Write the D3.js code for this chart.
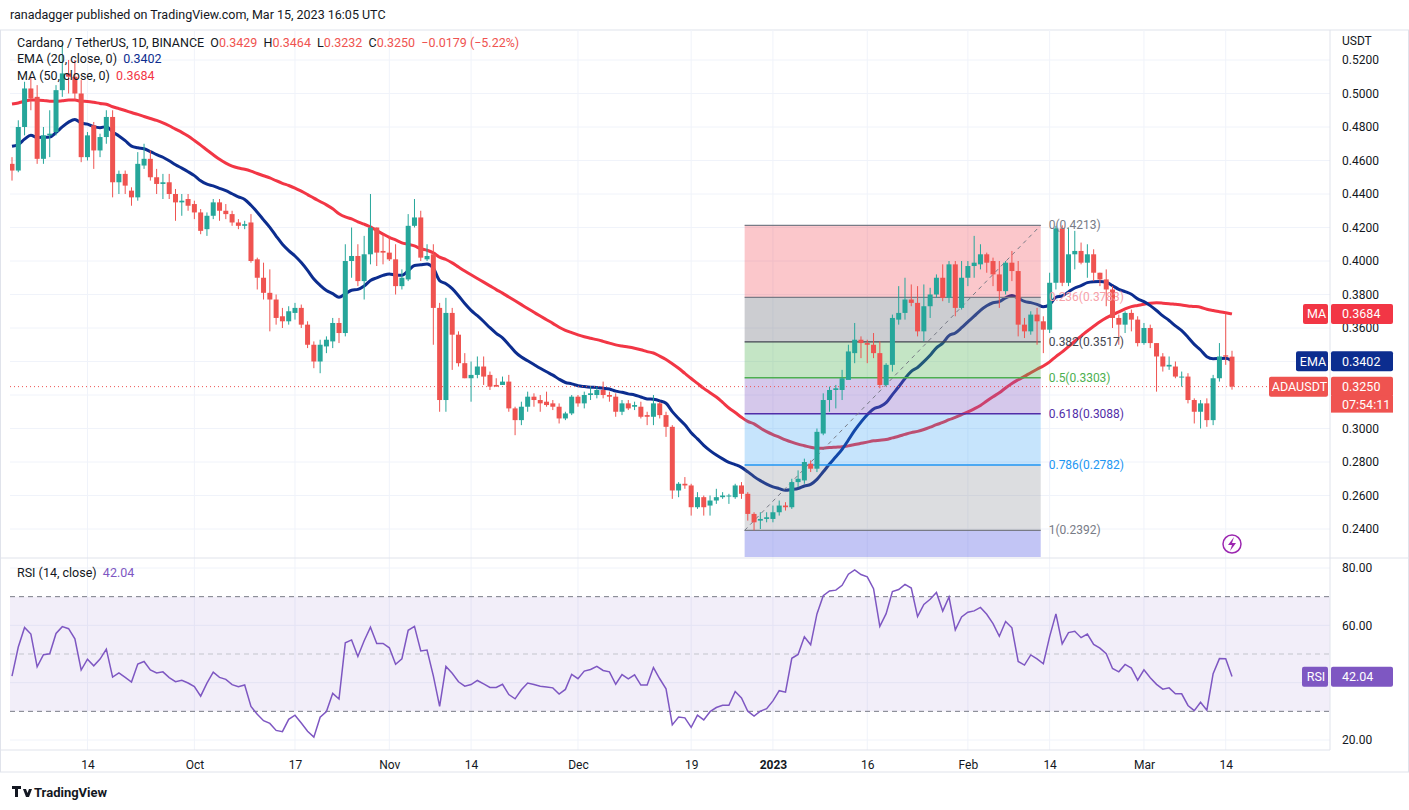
<!DOCTYPE html>
<html>
<head>
<meta charset="utf-8">
<script src="https://cdn.jsdelivr.net/npm/d3@7"></script>
<style>
  body { margin: 0; background: #fff; font-family: Roboto, "Noto Sans", sans-serif; }
  svg text { font-family: Roboto, "Noto Sans", sans-serif; white-space: pre; }
</style>
</head>
<body>
<svg id="chart" width="1409" height="810"></svg>
<script>
// closes before the visible window (mid Jul - Sep 1 2022), only used to seed EMA / MA / RSI
var preCloses = [0.442,0.447,0.452,0.458,0.470,0.482,0.498,0.505,0.496,0.488,0.502,0.495,0.484,0.491,0.506,0.512,0.520,0.508,0.502,0.498,
  0.515,0.522,0.510,0.504,0.518,0.528,0.536,0.532,0.545,0.560,0.556,0.572,0.578,0.566,0.540,0.512,0.478,0.462,0.455,0.460,
  0.448,0.442,0.450,0.440,0.436,0.448,0.456,0.452,0.446,0.450];

// visible daily candles from Sep 2 2022: [open, high, low, close]
var candles = [
 [.458,.462,.448,.454],[.454,.484,.453,.480],[.480,.507,.475,.503],[.503,.510,.490,.497],[.498,.505,.458,.461],
 [.461,.480,.458,.475],[.475,.490,.462,.476],[.477,.505,.475,.502],[.502,.530,.498,.512],[.512,.520,.500,.510],
 [.510,.520,.496,.500],[.500,.508,.459,.462],[.462,.477,.460,.475],[.481,.483,.455,.466],[.466,.476,.462,.474],
 [.474,.490,.470,.486],[.486,.490,.438,.447],[.447,.454,.440,.452],[.452,.454,.440,.445],[.442,.444,.433,.438],
 [.438,.465,.436,.458],[.457,.470,.455,.461],[.461,.466,.448,.450],[.450,.455,.440,.446],[.446,.452,.437,.447],
 [.447,.452,.437,.440],[.440,.443,.424,.435],[.435,.440,.427,.436],[.437,.440,.430,.433],[.434,.436,.425,.429],
 [.429,.431,.416,.418],[.419,.429,.415,.427],[.427,.437,.425,.435],[.435,.437,.424,.430],[.430,.434,.425,.428],
 [.428,.430,.421,.423],[.423,.425,.419,.421],[.421,.424,.419,.422],[.423,.428,.399,.400],[.401,.402,.383,.390],
 [.390,.399,.377,.381],[.381,.395,.358,.377],[.377,.380,.362,.366],[.367,.372,.360,.364],[.364,.373,.362,.370],
 [.369,.375,.365,.372],[.372,.374,.360,.362],[.362,.364,.348,.350],[.350,.352,.336,.340],[.340,.353,.333,.350],
 [.349,.355,.345,.353],[.352,.366,.348,.363],[.363,.366,.351,.357],[.357,.410,.355,.400],[.400,.420,.390,.403],
 [.403,.410,.385,.388],[.388,.415,.377,.404],[.404,.440,.398,.420],[.420,.420,.397,.405],[.406,.416,.398,.405],
 [.405,.415,.400,.401],[.401,.410,.380,.385],[.385,.395,.383,.390],[.389,.428,.388,.421],[.421,.437,.420,.426],
 [.426,.430,.400,.402],[.401,.410,.400,.403],[.404,.410,.350,.372],[.372,.375,.310,.317],[.317,.378,.310,.369],
 [.369,.372,.335,.356],[.356,.358,.337,.339],[.339,.345,.330,.330],[.330,.340,.316,.332],[.332,.343,.330,.337],
 [.337,.343,.326,.331],[.332,.334,.323,.325],[.326,.330,.325,.325],[.326,.331,.326,.328],[.328,.332,.310,.312],
 [.312,.313,.296,.305],[.305,.316,.302,.313],[.313,.322,.310,.319],[.319,.321,.313,.317],[.317,.320,.310,.315],
 [.316,.322,.313,.314],[.315,.317,.311,.313],[.313,.315,.303,.306],[.306,.310,.305,.309],[.309,.320,.308,.319],
 [.319,.320,.313,.315],[.315,.322,.312,.320],[.320,.325,.317,.321],[.320,.325,.318,.323],[.323,.328,.318,.320],
 [.320,.322,.316,.319],[.319,.321,.307,.310],[.310,.317,.308,.315],[.315,.317,.311,.312],[.313,.316,.311,.314],
 [.313,.316,.306,.307],[.308,.310,.302,.307],[.307,.320,.302,.315],[.315,.316,.306,.308],[.308,.310,.295,.301],
 [.301,.302,.258,.263],[.263,.268,.259,.267],[.267,.271,.264,.266],[.266,.267,.248,.253],[.253,.262,.252,.259],
 [.259,.260,.248,.253],[.254,.260,.248,.257],[.257,.264,.255,.259],[.259,.262,.258,.260],[.260,.261,.255,.260],
 [.259,.267,.258,.266],[.266,.268,.258,.261],[.261,.262,.245,.249],[.249,.250,.2392,.244],[.245,.250,.240,.246],
 [.246,.250,.244,.247],[.246,.254,.244,.250],[.250,.257,.248,.254],[.254,.256,.251,.253],[.253,.270,.252,.268],
 [.268,.275,.265,.270],[.269,.282,.267,.280],[.279,.281,.274,.276],[.276,.300,.274,.298],[.297,.321,.296,.317],
 [.317,.325,.310,.323],[.323,.326,.312,.324],[.323,.335,.317,.330],[.329,.350,.330,.346],[.345,.363,.339,.353],
 [.353,.355,.342,.351],[.351,.353,.339,.350],[.350,.357,.342,.345],[.345,.352,.324,.326],[.326,.339,.325,.338],
 [.338,.368,.334,.366],[.365,.385,.362,.369],[.369,.390,.365,.377],[.377,.386,.373,.375],[.375,.385,.355,.358],
 [.358,.386,.352,.373],[.373,.384,.366,.380],[.380,.392,.378,.390],[.390,.398,.376,.378],[.378,.400,.375,.398],
 [.398,.400,.367,.372],[.372,.400,.371,.390],[.390,.400,.385,.397],[.397,.415,.390,.399],[.398,.410,.395,.404],
 [.404,.405,.393,.399],[.400,.402,.385,.392],[.392,.400,.372,.382],[.382,.400,.380,.399],[.399,.406,.388,.394],
 [.394,.400,.355,.362],[.362,.366,.354,.358],[.358,.370,.356,.368],[.368,.372,.350,.364],[.364,.367,.345,.359],
 [.359,.393,.357,.387],[.387,.421,.383,.4195],[.4195,.4213,.385,.387],[.387,.420,.385,.404],[.404,.418,.395,.406],
 [.406,.411,.398,.399],[.399,.410,.390,.404],[.404,.407,.388,.393],[.393,.393,.385,.389],[.389,.395,.373,.383],
 [.383,.385,.360,.366],[.366,.368,.350,.362],[.362,.370,.357,.369],[.369,.371,.358,.365],[.365,.367,.349,.351],
 [.351,.363,.350,.360],[.360,.362,.348,.351],[.351,.351,.322,.343],[.343,.345,.334,.337],[.337,.343,.335,.338],
 [.337,.340,.330,.331],[.331,.334,.325,.331],[.331,.333,.315,.317],[.317,.318,.303,.310],[.310,.317,.300,.315],
 [.315,.318,.301,.305],[.305,.332,.302,.330],[.330,.351,.328,.343],[.3437,.3686,.338,.3429],[.3429,.3464,.3232,.3250]
];

var start = new Date(2022, 8, 2);
var data = candles.map(function(c, i) {
  return { date: d3.timeDay.offset(start, i), o: c[0], h: c[1], l: c[2], c: c[3] };
});

// indicators from the full close history
var allCloses = preCloses.concat(data.map(function(d) { return d.c; }));
var ema = [], ma = [], rsi = [];
var k = 2 / 21, e = d3.mean(allCloses.slice(0, 20));
var gain = 0, loss = 0;
allCloses.forEach(function(c, i) {
  if (i >= 20) e = c * k + e * (1 - k);
  ema.push(e);
  ma.push(i >= 49 ? d3.mean(allCloses.slice(i - 49, i + 1)) : null);
  if (i > 0) {
    var ch = c - allCloses[i - 1];
    var g = Math.max(ch, 0), l = Math.max(-ch, 0);
    if (i <= 14) { gain += g / 14; loss += l / 14; }
    else { gain = (gain * 13 + g) / 14; loss = (loss * 13 + l) / 14; }
  }
  rsi.push(loss === 0 ? 100 : 100 - 100 / (1 + gain / loss));
});
var off = preCloses.length;
data.forEach(function(d, i) { d.ema = ema[i + off]; d.ma = ma[i + off]; d.rsi = rsi[i + off]; });

var svg = d3.select("#chart");
var padL = 10, padR = 1330, padT = 30, mainBottom = 557, rsiBottom = 750;

var x = d3.scaleTime().domain([start, new Date(2023, 2, 15)]).range([12, 1232]);
var y = d3.scaleLinear().domain([0.24, 0.52]).range([529, 60]);
var yr = d3.scaleLinear().domain([20, 80]).range([740, 568]);

svg.append("text").attr("x", 10).attr("y", 19).attr("font-size", 12.5).attr("fill", "#131722")
  .text("ranadagger published on TradingView.com, Mar 15, 2023 16:05 UTC");

svg.append("rect").attr("x", 0.5).attr("y", padT).attr("width", 1408).attr("height", 742)
  .attr("fill", "none").attr("stroke", "#e0e3eb");

svg.append("defs").append("clipPath").attr("id", "cm").append("rect")
  .attr("x", padL).attr("y", padT).attr("width", padR - padL).attr("height", mainBottom - padT);

// grid
var tickDates = [new Date(2022,8,14), new Date(2022,9,1), new Date(2022,9,17), new Date(2022,10,1), new Date(2022,10,14),
  new Date(2022,11,1), new Date(2022,11,19), new Date(2023,0,1), new Date(2023,0,16), new Date(2023,1,1),
  new Date(2023,1,14), new Date(2023,2,1), new Date(2023,2,14)];
var grid = svg.append("g").attr("stroke", "#f0f3fa");
tickDates.forEach(function(t) {
  grid.append("line").attr("x1", x(t)).attr("x2", x(t)).attr("y1", padT).attr("y2", rsiBottom);
});
d3.range(0.24, 0.5201, 0.02).forEach(function(v) {
  grid.append("line").attr("x1", padL).attr("x2", padR).attr("y1", y(v)).attr("y2", y(v));
});
[20, 40, 60, 80].forEach(function(v) {
  grid.append("line").attr("x1", padL).attr("x2", padR).attr("y1", yr(v)).attr("y2", yr(v));
});

var main = svg.append("g").attr("clip-path", "url(#cm)");

// moving averages
var lineEma = d3.line().x(function(d) { return x(d.date); }).y(function(d) { return y(d.ema); }).curve(d3.curveMonotoneX);
var lineMa = d3.line().x(function(d) { return x(d.date); }).y(function(d) { return y(d.ma); }).curve(d3.curveMonotoneX);
main.append("path").attr("d", lineMa(data)).attr("fill", "none").attr("stroke", "#f23645").attr("stroke-width", 3);
main.append("path").attr("d", lineEma(data)).attr("fill", "none").attr("stroke", "#0c2d8f").attr("stroke-width", 3);

// fib retracement
var fibStart = 116.5, fibEnd = 163.6;
var fx0 = x(d3.timeHour.offset(start, fibStart * 24)), fx1 = x(d3.timeHour.offset(start, fibEnd * 24));
var hi = 0.4213, lo = 0.2392;
var fibs = [
  { r: "0", v: 0.4213, col: "#787b86", fill: "rgba(242,54,69,0.28)", tc: "#787b86" },
  { r: "0.236", v: 0.3783, col: "#787b86", fill: "rgba(120,123,134,0.38)", tc: "#f7a1a8" },
  { r: "0.382", v: 0.3517, col: "#434651", fill: "rgba(76,175,80,0.33)", tc: "#434651" },
  { r: "0.5", v: 0.3303, col: "#4caf50", fill: "rgba(126,87,194,0.33)", tc: "#4caf50" },
  { r: "0.618", v: 0.3088, col: "#512da8", fill: "rgba(33,150,243,0.26)", tc: "#512da8" },
  { r: "0.786", v: 0.2782, col: "#2196f3", fill: "rgba(120,123,134,0.26)", tc: "#2196f3" },
  { r: "1", v: 0.2392, col: "#787b86", fill: "rgba(103,110,230,0.4)", tc: "#787b86" }
];
fibs.forEach(function(f, i) {
  var next = i < fibs.length - 1 ? fibs[i + 1].v : 0.2;
  main.append("rect").attr("x", fx0).attr("width", fx1 - fx0)
    .attr("y", y(f.v)).attr("height", y(next) - y(f.v)).attr("fill", f.fill);
});
fibs.forEach(function(f) {
  main.append("line").attr("x1", fx0).attr("x2", fx1).attr("y1", y(f.v)).attr("y2", y(f.v))
    .attr("stroke", f.col).attr("stroke-width", 1.3);
});
main.append("line").attr("x1", fx0).attr("y1", y(lo)).attr("x2", fx1).attr("y2", y(hi))
  .attr("stroke", "#787b86").attr("stroke-dasharray", "4,4");

// last price line
main.append("line").attr("x1", padL).attr("x2", padR).attr("y1", y(0.325)).attr("y2", y(0.325))
  .attr("stroke", "#ef5350").attr("stroke-dasharray", "1,3");

// candles
var up = "#26a69a", down = "#ef5350";
var cg = main.append("g").selectAll("g").data(data).join("g");
cg.append("line").attr("x1", function(d) { return x(d.date); }).attr("x2", function(d) { return x(d.date); })
  .attr("y1", function(d) { return y(d.h); }).attr("y2", function(d) { return y(d.l); })
  .attr("stroke", function(d) { return d.c >= d.o ? up : down; });
cg.append("rect").attr("x", function(d) { return x(d.date) - 2.5; }).attr("width", 5)
  .attr("y", function(d) { return y(Math.max(d.o, d.c)); })
  .attr("height", function(d) { return Math.max(1, Math.abs(y(d.o) - y(d.c))); })
  .attr("fill", function(d) { return d.c >= d.o ? up : down; });

// fib labels
fibs.forEach(function(f) {
  svg.append("text").attr("x", fx1 + 8).attr("y", y(f.v) + 4).attr("font-size", 12).attr("fill", f.tc)
    .text(f.r + "(" + f.v.toFixed(4) + ")");
});

// legend
var leg = svg.append("g").attr("font-size", 12.5);
var t1 = leg.append("text").attr("x", 17).attr("y", 47).attr("fill", "#131722");
t1.append("tspan").text("Cardano / TetherUS, 1D, BINANCE  O");
t1.append("tspan").attr("fill", "#ef5350").text("0.3429");
t1.append("tspan").text("  H");
t1.append("tspan").attr("fill", "#ef5350").text("0.3464");
t1.append("tspan").text("  L");
t1.append("tspan").attr("fill", "#ef5350").text("0.3232");
t1.append("tspan").text("  C");
t1.append("tspan").attr("fill", "#ef5350").text("0.3250  \u22120.0179 (\u22125.22%)");
var t2 = leg.append("text").attr("x", 17).attr("y", 63).attr("fill", "#131722");
t2.append("tspan").text("EMA (20, close, 0)  ");
t2.append("tspan").attr("fill", "#0c2d8f").text("0.3402");
var t3 = leg.append("text").attr("x", 17).attr("y", 80).attr("fill", "#131722");
t3.append("tspan").text("MA (50, close, 0)  ");
t3.append("tspan").attr("fill", "#f23645").text("0.3684");

// RSI pane
svg.append("line").attr("x1", 0).attr("x2", 1409).attr("y1", mainBottom + 1).attr("y2", mainBottom + 1).attr("stroke", "#e0e3eb");
svg.append("rect").attr("x", padL).attr("width", padR - padL).attr("y", yr(70)).attr("height", yr(30) - yr(70))
  .attr("fill", "rgba(126,87,194,0.1)");
[70, 30].forEach(function(v) {
  svg.append("line").attr("x1", padL).attr("x2", padR).attr("y1", yr(v)).attr("y2", yr(v))
    .attr("stroke", "#787b86").attr("stroke-dasharray", "5,4");
});
svg.append("line").attr("x1", padL).attr("x2", padR).attr("y1", yr(50)).attr("y2", yr(50))
  .attr("stroke", "#c3c5cc").attr("stroke-dasharray", "5,4");
var lineRsi = d3.line().x(function(d) { return x(d.date); }).y(function(d) { return yr(d.rsi); });
svg.append("path").attr("d", lineRsi(data)).attr("fill", "none").attr("stroke", "#7e57c2").attr("stroke-width", 1.5);
var t4 = svg.append("text").attr("x", 17).attr("y", 577).attr("font-size", 12.5).attr("fill", "#131722");
t4.append("tspan").text("RSI (14, close)  ");
t4.append("tspan").attr("fill", "#7e57c2").text("42.04");

// right axes
svg.append("line").attr("x1", padR).attr("x2", padR).attr("y1", padT).attr("y2", rsiBottom).attr("stroke", "#e0e3eb");
var yAxis = d3.axisRight(y).tickValues([0.24,0.26,0.28,0.30,0.36,0.38,0.40,0.42,0.44,0.46,0.48,0.50,0.52])
  .tickFormat(d3.format(".4f")).tickSize(0).tickPadding(12);
svg.append("g").attr("transform", "translate(" + padR + ",0)").call(yAxis)
  .call(function(g) { g.select(".domain").remove(); })
  .selectAll("text").attr("font-size", 12).attr("fill", "#131722");
var rAxis = d3.axisRight(yr).tickValues([20, 60, 80]).tickFormat(d3.format(".2f")).tickSize(0).tickPadding(12);
svg.append("g").attr("transform", "translate(" + padR + ",0)").call(rAxis)
  .call(function(g) { g.select(".domain").remove(); })
  .selectAll("text").attr("font-size", 12).attr("fill", "#131722");
svg.append("text").attr("x", 1342).attr("y", 45).attr("font-size", 12).attr("fill", "#131722").text("USDT");

// price tags
function tag(lbl, val, col, yy, lx) {
  svg.append("rect").attr("x", lx).attr("y", yy - 10).attr("width", padR - lx - 2).attr("height", 20).attr("rx", 2).attr("fill", col);
  svg.append("text").attr("x", lx + (padR - lx) / 2).attr("y", yy + 4.5).attr("text-anchor", "middle")
    .attr("font-size", 12.5).attr("fill", "#fff").text(lbl);
  svg.append("rect").attr("x", padR + 1).attr("y", yy - 10).attr("width", 62).attr("height", 20).attr("rx", 2).attr("fill", col);
  svg.append("text").attr("x", padR + 12).attr("y", yy + 4.5).attr("font-size", 12.5).attr("fill", "#fff").text(val);
}
tag("MA", "0.3684", "#f23645", y(0.3684), 1303);
tag("EMA", "0.3402", "#0c2d8f", y(0.3402), 1296);
tag("ADAUSDT", "0.3250", "#ef5350", y(0.325), 1269);
svg.append("rect").attr("x", padR + 1).attr("y", y(0.325) + 9).attr("width", 62).attr("height", 17).attr("fill", "#ef5350");
svg.append("text").attr("x", padR + 12).attr("y", y(0.325) + 22).attr("font-size", 12.5).attr("fill", "#fff").text("07:54:11");
tag("RSI", "42.04", "#7e57c2", yr(42.04), 1302);

// time axis
svg.append("line").attr("x1", 0).attr("x2", padR).attr("y1", rsiBottom).attr("y2", rsiBottom).attr("stroke", "#e0e3eb");
var fmt = function(d) {
  if (d.getMonth() === 0 && d.getDate() === 1) return "2023";
  return d.getDate() === 1 ? d3.timeFormat("%b")(d) : d3.timeFormat("%-d")(d);
};
svg.append("g").attr("transform", "translate(0," + rsiBottom + ")")
  .call(d3.axisBottom(x).tickValues(tickDates).tickFormat(fmt).tickSize(0).tickPadding(10))
  .call(function(g) { g.select(".domain").remove(); })
  .selectAll("text").attr("font-size", 12).attr("fill", "#131722")
  .attr("font-weight", function(d) { return fmt(d) === "2023" ? "bold" : null; });

// lightning marker
svg.append("circle").attr("cx", 1232).attr("cy", 544).attr("r", 9).attr("fill", "none").attr("stroke", "#9c27b0").attr("stroke-width", 1.5);
svg.append("path").attr("d", "M1234,537 L1228,545 L1232,545 L1230,551 L1236,543 L1232,543 Z").attr("fill", "#9c27b0");

// footer logo
svg.append("path").attr("d", "M12,786 h9 v3 h-3 v8 h-3 v-8 h-3 Z M23,789 l3,8 h3 l3,-8 h-3 l-1.5,4 l-1.5,-4 Z").attr("fill", "#131722");
svg.append("text").attr("x", 34).attr("y", 797).attr("font-size", 13).attr("font-weight", "bold").attr("fill", "#131722").text("TradingView");
</script>
</body>
</html>
